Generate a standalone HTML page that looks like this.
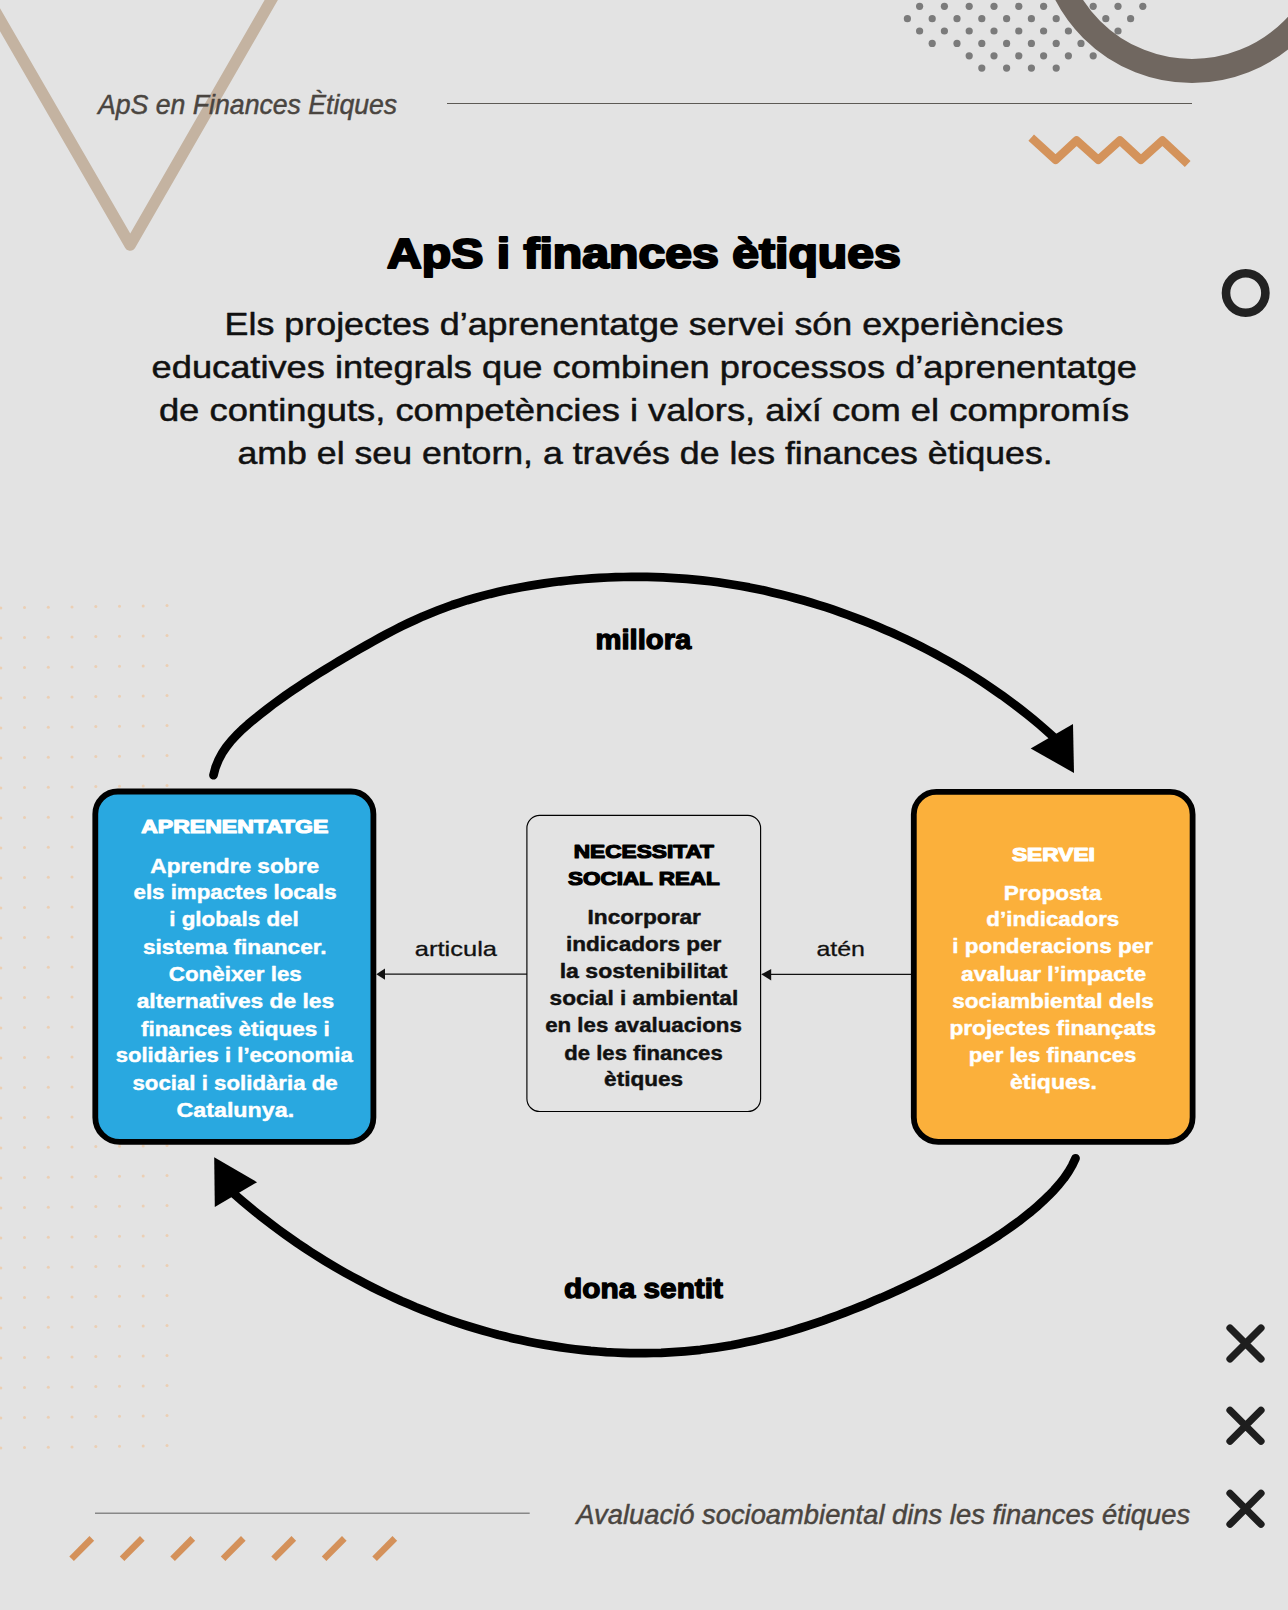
<!DOCTYPE html>
<html><head><meta charset="utf-8">
<style>
html,body{margin:0;padding:0;}
body{width:1288px;height:1610px;background:#e3e3e3;overflow:hidden;}
svg{display:block;font-family:"Liberation Sans",sans-serif;}
</style></head>
<body>
<svg width="1288" height="1610" viewBox="0 0 1288 1610">
<rect width="1288" height="1610" fill="#e3e3e3"/>
<g fill="#ebcfb4"><circle cx="0.8" cy="608.0" r="1.5"/><circle cx="24.5" cy="607.6" r="1.5"/><circle cx="48.3" cy="607.3" r="1.5"/><circle cx="72.0" cy="606.9" r="1.5"/><circle cx="95.8" cy="606.6" r="1.5"/><circle cx="119.5" cy="606.2" r="1.5"/><circle cx="143.2" cy="605.9" r="1.5"/><circle cx="167.0" cy="605.5" r="1.5"/><circle cx="0.8" cy="638.0" r="1.5"/><circle cx="24.5" cy="637.6" r="1.5"/><circle cx="48.3" cy="637.3" r="1.5"/><circle cx="72.0" cy="636.9" r="1.5"/><circle cx="95.8" cy="636.6" r="1.5"/><circle cx="119.5" cy="636.2" r="1.5"/><circle cx="143.2" cy="635.9" r="1.5"/><circle cx="167.0" cy="635.5" r="1.5"/><circle cx="0.8" cy="668.0" r="1.5"/><circle cx="24.5" cy="667.6" r="1.5"/><circle cx="48.3" cy="667.3" r="1.5"/><circle cx="72.0" cy="666.9" r="1.5"/><circle cx="95.8" cy="666.6" r="1.5"/><circle cx="119.5" cy="666.2" r="1.5"/><circle cx="143.2" cy="665.9" r="1.5"/><circle cx="167.0" cy="665.5" r="1.5"/><circle cx="0.8" cy="698.0" r="1.5"/><circle cx="24.5" cy="697.6" r="1.5"/><circle cx="48.3" cy="697.3" r="1.5"/><circle cx="72.0" cy="696.9" r="1.5"/><circle cx="95.8" cy="696.6" r="1.5"/><circle cx="119.5" cy="696.2" r="1.5"/><circle cx="143.2" cy="695.9" r="1.5"/><circle cx="167.0" cy="695.5" r="1.5"/><circle cx="0.8" cy="728.0" r="1.5"/><circle cx="24.5" cy="727.6" r="1.5"/><circle cx="48.3" cy="727.3" r="1.5"/><circle cx="72.0" cy="726.9" r="1.5"/><circle cx="95.8" cy="726.6" r="1.5"/><circle cx="119.5" cy="726.2" r="1.5"/><circle cx="143.2" cy="725.9" r="1.5"/><circle cx="167.0" cy="725.5" r="1.5"/><circle cx="0.8" cy="758.0" r="1.5"/><circle cx="24.5" cy="757.6" r="1.5"/><circle cx="48.3" cy="757.3" r="1.5"/><circle cx="72.0" cy="756.9" r="1.5"/><circle cx="95.8" cy="756.6" r="1.5"/><circle cx="119.5" cy="756.2" r="1.5"/><circle cx="143.2" cy="755.9" r="1.5"/><circle cx="167.0" cy="755.5" r="1.5"/><circle cx="0.8" cy="788.0" r="1.5"/><circle cx="24.5" cy="787.6" r="1.5"/><circle cx="48.3" cy="787.3" r="1.5"/><circle cx="72.0" cy="786.9" r="1.5"/><circle cx="95.8" cy="786.6" r="1.5"/><circle cx="119.5" cy="786.2" r="1.5"/><circle cx="143.2" cy="785.9" r="1.5"/><circle cx="167.0" cy="785.5" r="1.5"/><circle cx="0.8" cy="818.0" r="1.5"/><circle cx="24.5" cy="817.6" r="1.5"/><circle cx="48.3" cy="817.3" r="1.5"/><circle cx="72.0" cy="816.9" r="1.5"/><circle cx="95.8" cy="816.6" r="1.5"/><circle cx="119.5" cy="816.2" r="1.5"/><circle cx="143.2" cy="815.9" r="1.5"/><circle cx="167.0" cy="815.5" r="1.5"/><circle cx="0.8" cy="848.0" r="1.5"/><circle cx="24.5" cy="847.6" r="1.5"/><circle cx="48.3" cy="847.3" r="1.5"/><circle cx="72.0" cy="846.9" r="1.5"/><circle cx="95.8" cy="846.6" r="1.5"/><circle cx="119.5" cy="846.2" r="1.5"/><circle cx="143.2" cy="845.9" r="1.5"/><circle cx="167.0" cy="845.5" r="1.5"/><circle cx="0.8" cy="878.0" r="1.5"/><circle cx="24.5" cy="877.6" r="1.5"/><circle cx="48.3" cy="877.3" r="1.5"/><circle cx="72.0" cy="876.9" r="1.5"/><circle cx="95.8" cy="876.6" r="1.5"/><circle cx="119.5" cy="876.2" r="1.5"/><circle cx="143.2" cy="875.9" r="1.5"/><circle cx="167.0" cy="875.5" r="1.5"/><circle cx="0.8" cy="908.0" r="1.5"/><circle cx="24.5" cy="907.6" r="1.5"/><circle cx="48.3" cy="907.3" r="1.5"/><circle cx="72.0" cy="906.9" r="1.5"/><circle cx="95.8" cy="906.6" r="1.5"/><circle cx="119.5" cy="906.2" r="1.5"/><circle cx="143.2" cy="905.9" r="1.5"/><circle cx="167.0" cy="905.5" r="1.5"/><circle cx="0.8" cy="938.0" r="1.5"/><circle cx="24.5" cy="937.6" r="1.5"/><circle cx="48.3" cy="937.3" r="1.5"/><circle cx="72.0" cy="936.9" r="1.5"/><circle cx="95.8" cy="936.6" r="1.5"/><circle cx="119.5" cy="936.2" r="1.5"/><circle cx="143.2" cy="935.9" r="1.5"/><circle cx="167.0" cy="935.5" r="1.5"/><circle cx="0.8" cy="968.0" r="1.5"/><circle cx="24.5" cy="967.6" r="1.5"/><circle cx="48.3" cy="967.3" r="1.5"/><circle cx="72.0" cy="966.9" r="1.5"/><circle cx="95.8" cy="966.6" r="1.5"/><circle cx="119.5" cy="966.2" r="1.5"/><circle cx="143.2" cy="965.9" r="1.5"/><circle cx="167.0" cy="965.5" r="1.5"/><circle cx="0.8" cy="998.0" r="1.5"/><circle cx="24.5" cy="997.6" r="1.5"/><circle cx="48.3" cy="997.3" r="1.5"/><circle cx="72.0" cy="996.9" r="1.5"/><circle cx="95.8" cy="996.6" r="1.5"/><circle cx="119.5" cy="996.2" r="1.5"/><circle cx="143.2" cy="995.9" r="1.5"/><circle cx="167.0" cy="995.5" r="1.5"/><circle cx="0.8" cy="1028.0" r="1.5"/><circle cx="24.5" cy="1027.6" r="1.5"/><circle cx="48.3" cy="1027.3" r="1.5"/><circle cx="72.0" cy="1026.9" r="1.5"/><circle cx="95.8" cy="1026.6" r="1.5"/><circle cx="119.5" cy="1026.2" r="1.5"/><circle cx="143.2" cy="1025.9" r="1.5"/><circle cx="167.0" cy="1025.5" r="1.5"/><circle cx="0.8" cy="1058.0" r="1.5"/><circle cx="24.5" cy="1057.6" r="1.5"/><circle cx="48.3" cy="1057.3" r="1.5"/><circle cx="72.0" cy="1056.9" r="1.5"/><circle cx="95.8" cy="1056.6" r="1.5"/><circle cx="119.5" cy="1056.2" r="1.5"/><circle cx="143.2" cy="1055.9" r="1.5"/><circle cx="167.0" cy="1055.5" r="1.5"/><circle cx="0.8" cy="1088.0" r="1.5"/><circle cx="24.5" cy="1087.6" r="1.5"/><circle cx="48.3" cy="1087.3" r="1.5"/><circle cx="72.0" cy="1086.9" r="1.5"/><circle cx="95.8" cy="1086.6" r="1.5"/><circle cx="119.5" cy="1086.2" r="1.5"/><circle cx="143.2" cy="1085.9" r="1.5"/><circle cx="167.0" cy="1085.5" r="1.5"/><circle cx="0.8" cy="1118.0" r="1.5"/><circle cx="24.5" cy="1117.6" r="1.5"/><circle cx="48.3" cy="1117.3" r="1.5"/><circle cx="72.0" cy="1116.9" r="1.5"/><circle cx="95.8" cy="1116.6" r="1.5"/><circle cx="119.5" cy="1116.2" r="1.5"/><circle cx="143.2" cy="1115.9" r="1.5"/><circle cx="167.0" cy="1115.5" r="1.5"/><circle cx="0.8" cy="1148.0" r="1.5"/><circle cx="24.5" cy="1147.6" r="1.5"/><circle cx="48.3" cy="1147.3" r="1.5"/><circle cx="72.0" cy="1146.9" r="1.5"/><circle cx="95.8" cy="1146.6" r="1.5"/><circle cx="119.5" cy="1146.2" r="1.5"/><circle cx="143.2" cy="1145.9" r="1.5"/><circle cx="167.0" cy="1145.5" r="1.5"/><circle cx="0.8" cy="1178.0" r="1.5"/><circle cx="24.5" cy="1177.6" r="1.5"/><circle cx="48.3" cy="1177.3" r="1.5"/><circle cx="72.0" cy="1176.9" r="1.5"/><circle cx="95.8" cy="1176.6" r="1.5"/><circle cx="119.5" cy="1176.2" r="1.5"/><circle cx="143.2" cy="1175.9" r="1.5"/><circle cx="167.0" cy="1175.5" r="1.5"/><circle cx="0.8" cy="1208.0" r="1.5"/><circle cx="24.5" cy="1207.6" r="1.5"/><circle cx="48.3" cy="1207.3" r="1.5"/><circle cx="72.0" cy="1206.9" r="1.5"/><circle cx="95.8" cy="1206.6" r="1.5"/><circle cx="119.5" cy="1206.2" r="1.5"/><circle cx="143.2" cy="1205.9" r="1.5"/><circle cx="167.0" cy="1205.5" r="1.5"/><circle cx="0.8" cy="1238.0" r="1.5"/><circle cx="24.5" cy="1237.6" r="1.5"/><circle cx="48.3" cy="1237.3" r="1.5"/><circle cx="72.0" cy="1236.9" r="1.5"/><circle cx="95.8" cy="1236.6" r="1.5"/><circle cx="119.5" cy="1236.2" r="1.5"/><circle cx="143.2" cy="1235.9" r="1.5"/><circle cx="167.0" cy="1235.5" r="1.5"/><circle cx="0.8" cy="1268.0" r="1.5"/><circle cx="24.5" cy="1267.6" r="1.5"/><circle cx="48.3" cy="1267.3" r="1.5"/><circle cx="72.0" cy="1266.9" r="1.5"/><circle cx="95.8" cy="1266.6" r="1.5"/><circle cx="119.5" cy="1266.2" r="1.5"/><circle cx="143.2" cy="1265.9" r="1.5"/><circle cx="167.0" cy="1265.5" r="1.5"/><circle cx="0.8" cy="1298.0" r="1.5"/><circle cx="24.5" cy="1297.6" r="1.5"/><circle cx="48.3" cy="1297.3" r="1.5"/><circle cx="72.0" cy="1296.9" r="1.5"/><circle cx="95.8" cy="1296.6" r="1.5"/><circle cx="119.5" cy="1296.2" r="1.5"/><circle cx="143.2" cy="1295.9" r="1.5"/><circle cx="167.0" cy="1295.5" r="1.5"/><circle cx="0.8" cy="1328.0" r="1.5"/><circle cx="24.5" cy="1327.6" r="1.5"/><circle cx="48.3" cy="1327.3" r="1.5"/><circle cx="72.0" cy="1326.9" r="1.5"/><circle cx="95.8" cy="1326.6" r="1.5"/><circle cx="119.5" cy="1326.2" r="1.5"/><circle cx="143.2" cy="1325.9" r="1.5"/><circle cx="167.0" cy="1325.5" r="1.5"/><circle cx="0.8" cy="1358.0" r="1.5"/><circle cx="24.5" cy="1357.6" r="1.5"/><circle cx="48.3" cy="1357.3" r="1.5"/><circle cx="72.0" cy="1356.9" r="1.5"/><circle cx="95.8" cy="1356.6" r="1.5"/><circle cx="119.5" cy="1356.2" r="1.5"/><circle cx="143.2" cy="1355.9" r="1.5"/><circle cx="167.0" cy="1355.5" r="1.5"/><circle cx="0.8" cy="1388.0" r="1.5"/><circle cx="24.5" cy="1387.6" r="1.5"/><circle cx="48.3" cy="1387.3" r="1.5"/><circle cx="72.0" cy="1386.9" r="1.5"/><circle cx="95.8" cy="1386.6" r="1.5"/><circle cx="119.5" cy="1386.2" r="1.5"/><circle cx="143.2" cy="1385.9" r="1.5"/><circle cx="167.0" cy="1385.5" r="1.5"/><circle cx="0.8" cy="1418.0" r="1.5"/><circle cx="24.5" cy="1417.6" r="1.5"/><circle cx="48.3" cy="1417.3" r="1.5"/><circle cx="72.0" cy="1416.9" r="1.5"/><circle cx="95.8" cy="1416.6" r="1.5"/><circle cx="119.5" cy="1416.2" r="1.5"/><circle cx="143.2" cy="1415.9" r="1.5"/><circle cx="167.0" cy="1415.5" r="1.5"/><circle cx="0.8" cy="1448.0" r="1.5"/><circle cx="24.5" cy="1447.6" r="1.5"/><circle cx="48.3" cy="1447.3" r="1.5"/><circle cx="72.0" cy="1446.9" r="1.5"/><circle cx="95.8" cy="1446.6" r="1.5"/><circle cx="119.5" cy="1446.2" r="1.5"/><circle cx="143.2" cy="1445.9" r="1.5"/><circle cx="167.0" cy="1445.5" r="1.5"/></g>
<polyline points="-17.2,-10 130.2,245 277,-10" fill="none" stroke="#c4b3a1" stroke-width="11.5" stroke-linejoin="round" stroke-linecap="round"/>
<line x1="447" y1="103.5" x2="1192" y2="103.5" stroke="#5d5a55" stroke-width="1"/>
<g fill="#7b7b7b"><circle cx="919.6" cy="6.3" r="3.6"/><circle cx="944.4" cy="6.3" r="3.6"/><circle cx="969.2" cy="6.3" r="3.6"/><circle cx="994" cy="6.3" r="3.6"/><circle cx="1018.8" cy="6.3" r="3.6"/><circle cx="1043.6" cy="6.3" r="3.6"/><circle cx="1068.4" cy="6.3" r="3.6"/><circle cx="1093.2" cy="6.3" r="3.6"/><circle cx="1118" cy="6.3" r="3.6"/><circle cx="1142.8" cy="6.3" r="3.6"/><circle cx="907.4" cy="18.7" r="3.6"/><circle cx="932.2" cy="18.7" r="3.6"/><circle cx="957" cy="18.7" r="3.6"/><circle cx="981.8" cy="18.7" r="3.6"/><circle cx="1006.6" cy="18.7" r="3.6"/><circle cx="1031.4" cy="18.7" r="3.6"/><circle cx="1056.2" cy="18.7" r="3.6"/><circle cx="1081" cy="18.7" r="3.6"/><circle cx="1105.8" cy="18.7" r="3.6"/><circle cx="1130.6" cy="18.7" r="3.6"/><circle cx="919.6" cy="31" r="3.6"/><circle cx="944.4" cy="31" r="3.6"/><circle cx="969.2" cy="31" r="3.6"/><circle cx="994" cy="31" r="3.6"/><circle cx="1018.8" cy="31" r="3.6"/><circle cx="1043.6" cy="31" r="3.6"/><circle cx="1068.4" cy="31" r="3.6"/><circle cx="1093.2" cy="31" r="3.6"/><circle cx="1118" cy="31" r="3.6"/><circle cx="932.2" cy="43.4" r="3.6"/><circle cx="957" cy="43.4" r="3.6"/><circle cx="981.8" cy="43.4" r="3.6"/><circle cx="1006.6" cy="43.4" r="3.6"/><circle cx="1031.4" cy="43.4" r="3.6"/><circle cx="1056.2" cy="43.4" r="3.6"/><circle cx="1081" cy="43.4" r="3.6"/><circle cx="969.2" cy="55.8" r="3.6"/><circle cx="994" cy="55.8" r="3.6"/><circle cx="1018.8" cy="55.8" r="3.6"/><circle cx="1043.6" cy="55.8" r="3.6"/><circle cx="1068.4" cy="55.8" r="3.6"/><circle cx="1093.2" cy="55.8" r="3.6"/><circle cx="981.8" cy="68.1" r="3.6"/><circle cx="1006.6" cy="68.1" r="3.6"/><circle cx="1031.4" cy="68.1" r="3.6"/><circle cx="1056.2" cy="68.1" r="3.6"/></g>
<circle cx="1192" cy="-71" r="142" fill="none" stroke="#706760" stroke-width="24"/>
<polyline points="1031.2,137.6 1055.6,159.9 1076.6,140.4 1098.3,159.9 1119.9,140.4 1140.9,159.9 1162.5,140.4 1187.7,164.1" fill="none" stroke="#d4935b" stroke-width="8.3" stroke-linejoin="round"/>
<circle cx="1245.7" cy="293" r="19.7" fill="none" stroke="#222" stroke-width="8.6"/>
<g stroke="#1e1e1e" stroke-width="7.2" stroke-linecap="round">
<path d="M1230,1328 L1261,1359 M1261,1328 L1230,1359"/>
<path d="M1230,1410.3 L1261,1441.3 M1261,1410.3 L1230,1441.3"/>
<path d="M1230,1493.3 L1261,1524.3 M1261,1493.3 L1230,1524.3"/>
</g>
<line x1="95" y1="1513.3" x2="529.7" y2="1513.3" stroke="#888" stroke-width="1.5"/>
<g stroke="#d4915a" stroke-width="6.5">
<path d="M71.6,1558.8 L91.8,1538.4"/><path d="M122.1,1558.8 L142.3,1538.4"/><path d="M172.6,1558.8 L192.8,1538.4"/><path d="M223.1,1558.8 L243.3,1538.4"/><path d="M273.6,1558.8 L293.8,1538.4"/><path d="M324.1,1558.8 L344.3,1538.4"/><path d="M374.6,1558.8 L394.8,1538.4"/>
</g>
<g id="arrow1">
<path d="M213.5,775.2 L215.5,767.5 L218.4,760.3 L222.0,753.4 L226.3,747.0 L231.2,740.9 L236.5,735.1 L242.2,729.5 L248.2,724.2 L254.3,719.1 L260.5,714.1 L266.8,709.2 L273.1,704.4 L279.5,699.7 L285.9,695.1 L292.4,690.7 L298.9,686.3 L305.5,681.9 L312.2,677.6 L318.8,673.4 L325.6,669.2 L332.3,665.1 L339.1,661.0 L345.9,657.0 L352.7,653.0 L359.6,649.0 L366.5,645.1 L373.4,641.2 L380.3,637.4 L387.3,633.7 L394.3,630.0 L401.3,626.4 L408.4,623.0 L415.6,619.7 L422.8,616.4 L430.1,613.4 L437.4,610.5 L444.8,607.7 L452.2,605.0 L459.7,602.6 L467.2,600.2 L474.8,598.0 L482.4,595.9 L490.1,593.9 L497.8,592.1 L505.5,590.3 L513.3,588.7 L521.1,587.2 L528.9,585.9 L536.7,584.6 L544.6,583.4 L552.4,582.3 L560.3,581.3 L568.2,580.5 L576.1,579.7 L584.0,579.0 L591.8,578.4 L599.7,577.9 L607.7,577.5 L615.6,577.2 L623.5,577.0 L631.4,576.9 L639.3,576.8 L647.2,576.9 L655.1,577.1 L663.0,577.4 L670.8,577.8 L678.7,578.3 L686.6,578.9 L694.5,579.6 L702.3,580.4 L710.2,581.3 L718.0,582.3 L725.8,583.5 L733.6,584.7 L741.4,586.0 L749.1,587.4 L756.9,589.0 L764.6,590.6 L772.3,592.4 L780.0,594.2 L787.7,596.1 L795.4,598.2 L803.0,600.3 L810.6,602.5 L818.1,604.8 L825.7,607.2 L833.2,609.7 L840.7,612.3 L848.1,615.0 L855.6,617.8 L863.0,620.6 L870.3,623.5 L877.6,626.6 L884.9,629.7 L892.2,632.8 L899.4,636.1 L906.5,639.4 L913.7,642.9 L920.8,646.4 L927.8,650.0 L934.8,653.7 L941.7,657.5 L948.6,661.3 L955.5,665.3 L962.3,669.3 L969.0,673.4 L975.7,677.6 L982.3,681.9 L988.9,686.3 L995.4,690.8 L1001.9,695.3 L1008.3,700.0 L1014.7,704.7 L1020.9,709.5 L1027.1,714.4 L1033.3,719.4 L1039.4,724.5 L1045.4,729.7 L1051.3,734.9 L1060.2,743.0" fill="none" stroke="#000" stroke-width="8.7" stroke-linecap="round" stroke-linejoin="round"/>
<polygon points="1073,724 1074,773 1030.7,748.4" fill="#000"/>
</g>
<path d="M1075.5,1158.3 L1072.2,1165.4 L1068.3,1172.1 L1063.9,1178.4 L1059.1,1184.4 L1054.0,1190.2 L1048.6,1195.7 L1043.0,1201.1 L1037.1,1206.4 L1031.2,1211.5 L1025.0,1216.4 L1018.8,1221.3 L1012.4,1225.9 L1005.9,1230.5 L999.3,1235.0 L992.6,1239.3 L985.9,1243.6 L979.1,1247.7 L972.2,1251.7 L965.4,1255.7 L958.5,1259.6 L951.6,1263.4 L944.7,1267.1 L937.8,1270.8 L930.9,1274.4 L923.9,1277.9 L916.9,1281.3 L909.9,1284.7 L902.9,1288.0 L895.8,1291.3 L888.7,1294.4 L881.6,1297.6 L874.4,1300.6 L867.2,1303.7 L860.0,1306.6 L852.7,1309.5 L845.3,1312.4 L837.9,1315.2 L830.5,1317.9 L823.1,1320.6 L815.6,1323.1 L808.0,1325.6 L800.5,1328.0 L792.9,1330.3 L785.3,1332.6 L777.7,1334.7 L770.0,1336.7 L762.3,1338.6 L754.6,1340.4 L746.9,1342.1 L739.1,1343.7 L731.4,1345.2 L723.6,1346.5 L715.8,1347.7 L708.1,1348.8 L700.3,1349.8 L692.4,1350.6 L684.6,1351.3 L676.8,1351.9 L669.0,1352.4 L661.1,1352.8 L653.3,1353.0 L645.5,1353.1 L637.6,1353.2 L629.8,1353.1 L622.0,1352.8 L614.2,1352.5 L606.3,1352.1 L598.5,1351.5 L590.7,1350.9 L582.9,1350.1 L575.1,1349.2 L567.3,1348.2 L559.6,1347.1 L551.8,1345.9 L544.1,1344.6 L536.3,1343.2 L528.6,1341.7 L520.9,1340.1 L513.3,1338.4 L505.6,1336.6 L498.0,1334.7 L490.4,1332.6 L482.8,1330.5 L475.2,1328.3 L467.7,1326.0 L460.2,1323.6 L452.7,1321.1 L445.3,1318.5 L437.9,1315.8 L430.5,1313.0 L423.2,1310.1 L415.9,1307.2 L408.6,1304.1 L401.3,1301.0 L394.2,1297.7 L387.0,1294.4 L379.9,1291.0 L372.8,1287.5 L365.8,1283.9 L358.8,1280.2 L351.9,1276.5 L345.0,1272.7 L338.1,1268.8 L331.3,1264.8 L324.6,1260.7 L317.9,1256.5 L311.3,1252.3 L304.7,1248.0 L298.1,1243.6 L291.7,1239.1 L285.3,1234.6 L278.9,1230.0 L272.6,1225.3 L266.4,1220.5 L260.2,1215.7 L254.1,1210.8 L248.1,1205.8 L242.1,1200.8 L236.2,1195.7 L227.2,1187.8" fill="none" stroke="#000" stroke-width="8.7" stroke-linecap="round" stroke-linejoin="round"/>
<polygon points="214.2,1157.3 214.8,1207 257.1,1182.2" fill="#000"/>
<path d="M117.80,791.50 L350.90,791.50 A22.5,22.5 0 0 1 373.40,814.00 L373.40,1117.40 A24.5,24.5 0 0 1 348.90,1141.90 L119.80,1141.90 A24.5,24.5 0 0 1 95.30,1117.40 L95.30,814.00 A22.5,22.5 0 0 1 117.80,791.50 Z" fill="#29a8e0" stroke="#000" stroke-width="5.8"/>
<path d="M936.30,791.90 L1170.10,791.90 A22.5,22.5 0 0 1 1192.60,814.40 L1192.60,1117.30 A24.5,24.5 0 0 1 1168.10,1141.80 L938.30,1141.80 A24.5,24.5 0 0 1 913.80,1117.30 L913.80,814.40 A22.5,22.5 0 0 1 936.30,791.90 Z" fill="#fbb03b" stroke="#000" stroke-width="5.8"/>
<rect x="526.9" y="815.3" width="233.7" height="296.2" rx="12.8" ry="12.8" fill="#e3e3e3" stroke="#000" stroke-width="1.15"/>
<line x1="384" y1="974.2" x2="527" y2="974.2" stroke="#111" stroke-width="1.3"/>
<polygon points="376.3,974.2 385,968.6 385,979.8" fill="#111"/>
<line x1="769" y1="974.3" x2="911" y2="974.3" stroke="#111" stroke-width="1.3"/>
<polygon points="761.2,974.3 771.2,969 771.2,980.6" fill="#111"/>
<text id="hdr" x="98.00" y="113.50" font-size="27" textLength="299.20" lengthAdjust="spacingAndGlyphs" font-style="italic" fill="#4a4540" stroke="#4a4540" stroke-width="0.45" stroke-linejoin="round">ApS en Finances Ètiques</text>
<text id="ttl" x="387.00" y="267.80" font-size="42" textLength="513.80" lengthAdjust="spacingAndGlyphs" font-weight="bold" fill="#000" stroke="#000" stroke-width="2.2" stroke-linejoin="round">ApS i finances ètiques</text>
<text id="p1" x="224.60" y="335.40" font-size="32" textLength="838.80" lengthAdjust="spacingAndGlyphs" fill="#111" stroke="#111" stroke-width="0.5" stroke-linejoin="round">Els projectes d’aprenentatge servei són experiències</text>
<text id="p2" x="151.60" y="378.40" font-size="32" textLength="985.40" lengthAdjust="spacingAndGlyphs" fill="#111" stroke="#111" stroke-width="0.5" stroke-linejoin="round">educatives integrals que combinen processos d’aprenentatge</text>
<text id="p3" x="158.90" y="421.10" font-size="32" textLength="970.20" lengthAdjust="spacingAndGlyphs" fill="#111" stroke="#111" stroke-width="0.5" stroke-linejoin="round">de continguts, competències i valors, així com el compromís</text>
<text id="p4" x="237.50" y="463.80" font-size="32" textLength="815.20" lengthAdjust="spacingAndGlyphs" fill="#111" stroke="#111" stroke-width="0.5" stroke-linejoin="round">amb el seu entorn, a través de les finances ètiques.</text>
<text id="mil" x="595.50" y="648.50" font-size="28" textLength="95.80" lengthAdjust="spacingAndGlyphs" font-weight="bold" fill="#000" stroke="#000" stroke-width="1.3" stroke-linejoin="round">millora</text>
<text id="don" x="564.00" y="1297.70" font-size="28" textLength="159.00" lengthAdjust="spacingAndGlyphs" font-weight="bold" fill="#000" stroke="#000" stroke-width="1.3" stroke-linejoin="round">dona sentit</text>
<text id="b0" x="141.20" y="833.30" font-size="19" textLength="187.20" lengthAdjust="spacingAndGlyphs" font-weight="bold" fill="#fff" stroke="#fff" stroke-width="1.2" stroke-linejoin="round">APRENENTATGE</text>
<text id="b1" x="150.30" y="872.50" font-size="21" textLength="168.80" lengthAdjust="spacingAndGlyphs" font-weight="bold" fill="#fff" stroke="#fff" stroke-width="0.45" stroke-linejoin="round">Aprendre sobre</text>
<text id="b2" x="133.50" y="899.30" font-size="21" textLength="203.20" lengthAdjust="spacingAndGlyphs" font-weight="bold" fill="#fff" stroke="#fff" stroke-width="0.45" stroke-linejoin="round">els impactes locals</text>
<text id="b3" x="169.20" y="926.40" font-size="21" textLength="129.60" lengthAdjust="spacingAndGlyphs" font-weight="bold" fill="#fff" stroke="#fff" stroke-width="0.45" stroke-linejoin="round">i globals del</text>
<text id="b4" x="143.00" y="953.80" font-size="21" textLength="183.60" lengthAdjust="spacingAndGlyphs" font-weight="bold" fill="#fff" stroke="#fff" stroke-width="0.45" stroke-linejoin="round">sistema financer.</text>
<text id="b5" x="168.80" y="980.50" font-size="21" textLength="133.00" lengthAdjust="spacingAndGlyphs" font-weight="bold" fill="#fff" stroke="#fff" stroke-width="0.45" stroke-linejoin="round">Conèixer les</text>
<text id="b6" x="136.70" y="1008.30" font-size="21" textLength="197.40" lengthAdjust="spacingAndGlyphs" font-weight="bold" fill="#fff" stroke="#fff" stroke-width="0.45" stroke-linejoin="round">alternatives de les</text>
<text id="b7" x="140.90" y="1035.60" font-size="21" textLength="188.80" lengthAdjust="spacingAndGlyphs" font-weight="bold" fill="#fff" stroke="#fff" stroke-width="0.45" stroke-linejoin="round">finances ètiques i</text>
<text id="b8" x="115.70" y="1062.40" font-size="21" textLength="237.00" lengthAdjust="spacingAndGlyphs" font-weight="bold" fill="#fff" stroke="#fff" stroke-width="0.45" stroke-linejoin="round">solidàries i l’economia</text>
<text id="b9" x="132.50" y="1089.60" font-size="21" textLength="205.20" lengthAdjust="spacingAndGlyphs" font-weight="bold" fill="#fff" stroke="#fff" stroke-width="0.45" stroke-linejoin="round">social i solidària de</text>
<text id="b10" x="176.50" y="1117.30" font-size="21" textLength="117.60" lengthAdjust="spacingAndGlyphs" font-weight="bold" fill="#fff" stroke="#fff" stroke-width="0.45" stroke-linejoin="round">Catalunya.</text>
<text id="c0" x="573.75" y="857.70" font-size="19" textLength="140.20" lengthAdjust="spacingAndGlyphs" font-weight="bold" fill="#000" stroke="#000" stroke-width="1.2" stroke-linejoin="round">NECESSITAT</text>
<text id="c1" x="568.00" y="884.50" font-size="19" textLength="151.80" lengthAdjust="spacingAndGlyphs" font-weight="bold" fill="#000" stroke="#000" stroke-width="1.2" stroke-linejoin="round">SOCIAL REAL</text>
<text id="c2" x="587.50" y="923.75" font-size="21" textLength="113.40" lengthAdjust="spacingAndGlyphs" font-weight="bold" fill="#111" stroke="#111" stroke-width="0.45" stroke-linejoin="round">Incorporar</text>
<text id="c3" x="566.00" y="950.50" font-size="21" textLength="155.40" lengthAdjust="spacingAndGlyphs" font-weight="bold" fill="#111" stroke="#111" stroke-width="0.45" stroke-linejoin="round">indicadors per</text>
<text id="c4" x="559.70" y="977.90" font-size="21" textLength="167.80" lengthAdjust="spacingAndGlyphs" font-weight="bold" fill="#111" stroke="#111" stroke-width="0.45" stroke-linejoin="round">la sostenibilitat</text>
<text id="c5" x="549.60" y="1005.00" font-size="21" textLength="188.60" lengthAdjust="spacingAndGlyphs" font-weight="bold" fill="#111" stroke="#111" stroke-width="0.45" stroke-linejoin="round">social i ambiental</text>
<text id="c6" x="545.20" y="1032.10" font-size="21" textLength="196.60" lengthAdjust="spacingAndGlyphs" font-weight="bold" fill="#111" stroke="#111" stroke-width="0.45" stroke-linejoin="round">en les avaluacions</text>
<text id="c7" x="564.30" y="1059.50" font-size="21" textLength="158.40" lengthAdjust="spacingAndGlyphs" font-weight="bold" fill="#111" stroke="#111" stroke-width="0.45" stroke-linejoin="round">de les finances</text>
<text id="c8" x="604.10" y="1086.30" font-size="21" textLength="79.00" lengthAdjust="spacingAndGlyphs" font-weight="bold" fill="#111" stroke="#111" stroke-width="0.45" stroke-linejoin="round">ètiques</text>
<text id="art" x="414.80" y="955.60" font-size="21" textLength="82.20" lengthAdjust="spacingAndGlyphs" fill="#111" stroke="#111" stroke-width="0.3" stroke-linejoin="round">articula</text>
<text id="ate" x="816.40" y="955.80" font-size="21" textLength="48.60" lengthAdjust="spacingAndGlyphs" fill="#111" stroke="#111" stroke-width="0.3" stroke-linejoin="round">atén</text>
<text id="o0" x="1011.90" y="860.60" font-size="19" textLength="83.00" lengthAdjust="spacingAndGlyphs" font-weight="bold" fill="#fff" stroke="#fff" stroke-width="1.2" stroke-linejoin="round">SERVEI</text>
<text id="o1" x="1003.70" y="899.60" font-size="21" textLength="98.00" lengthAdjust="spacingAndGlyphs" font-weight="bold" fill="#fff" stroke="#fff" stroke-width="0.45" stroke-linejoin="round">Proposta</text>
<text id="o2" x="986.30" y="926.20" font-size="21" textLength="133.00" lengthAdjust="spacingAndGlyphs" font-weight="bold" fill="#fff" stroke="#fff" stroke-width="0.45" stroke-linejoin="round">d’indicadors</text>
<text id="o3" x="952.30" y="953.40" font-size="21" textLength="200.60" lengthAdjust="spacingAndGlyphs" font-weight="bold" fill="#fff" stroke="#fff" stroke-width="0.45" stroke-linejoin="round">i ponderacions per</text>
<text id="o4" x="961.10" y="980.60" font-size="21" textLength="185.20" lengthAdjust="spacingAndGlyphs" font-weight="bold" fill="#fff" stroke="#fff" stroke-width="0.45" stroke-linejoin="round">avaluar l’impacte</text>
<text id="o5" x="952.30" y="1008.10" font-size="21" textLength="201.60" lengthAdjust="spacingAndGlyphs" font-weight="bold" fill="#fff" stroke="#fff" stroke-width="0.45" stroke-linejoin="round">sociambiental dels</text>
<text id="o6" x="949.40" y="1035.30" font-size="21" textLength="206.80" lengthAdjust="spacingAndGlyphs" font-weight="bold" fill="#fff" stroke="#fff" stroke-width="0.45" stroke-linejoin="round">projectes finançats</text>
<text id="o7" x="968.80" y="1061.90" font-size="21" textLength="167.60" lengthAdjust="spacingAndGlyphs" font-weight="bold" fill="#fff" stroke="#fff" stroke-width="0.45" stroke-linejoin="round">per les finances</text>
<text id="o8" x="1010.00" y="1089.10" font-size="21" textLength="87.00" lengthAdjust="spacingAndGlyphs" font-weight="bold" fill="#fff" stroke="#fff" stroke-width="0.45" stroke-linejoin="round">ètiques.</text>
<text id="ftr" x="576.30" y="1523.85" font-size="27" textLength="613.80" lengthAdjust="spacingAndGlyphs" font-style="italic" fill="#4a4540" stroke="#4a4540" stroke-width="0.45" stroke-linejoin="round">Avaluació socioambiental dins les finances étiques</text>
</svg>
</body></html>
